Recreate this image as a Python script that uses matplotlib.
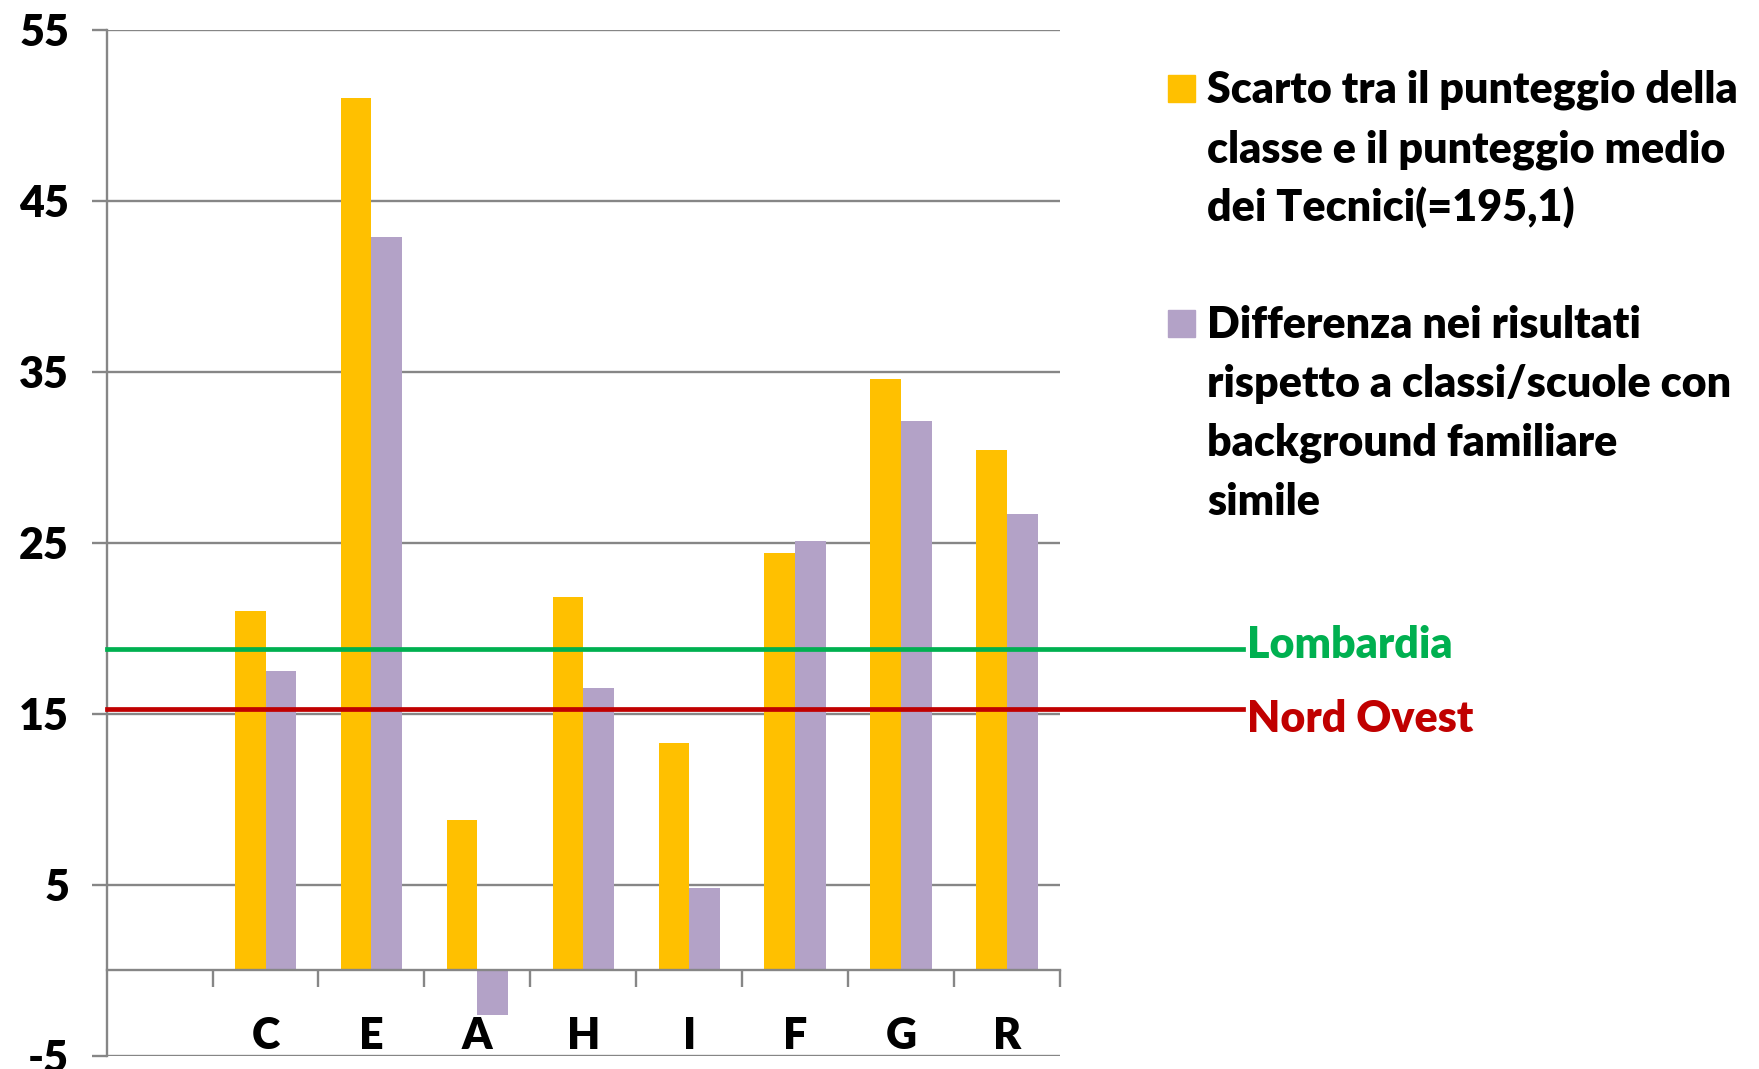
import numpy as np
import matplotlib.pyplot as plt
from matplotlib.patches import Rectangle
from matplotlib.transforms import blended_transform_factory

# data
categories = ['', 'C', 'E', 'A', 'H', 'I', 'F', 'G', 'R']
scarto = [np.nan, 21.0, 51.0, 8.8, 21.8, 13.3, 24.4, 34.6, 30.4]
differenza = [np.nan, 17.5, 42.9, -2.6, 16.5, 4.8, 25.1, 32.1, 26.7]
lombardia = 18.8
nord_ovest = 15.3
y_ticks = [-5, 5, 15, 25, 35, 45, 55]
legend_labels = [
    ['Scarto tra il punteggio della', 'classe e il punteggio medio', 'dei Tecnici(=195,1)'],
    ['Differenza nei risultati', 'rispetto a classi/scuole con',
     'background familiare', 'simile'],
]

YELLOW = '#FFC000'
PURPLE = '#B3A2C7'
GREEN = '#00B050'
RED = '#C00000'
GRID = '#868686'
FS = 31
WT = 'heavy'

plt.rcParams['font.family'] = 'Lato'
plt.rcParams['font.weight'] = WT

W, H = 1759, 1069
fig = plt.figure(figsize=(W / 100, H / 100), dpi=100)
ax = fig.add_axes([106.6 / W, 1 - 1056 / H, (1060 - 106.6) / W, (1056 - 29.5) / H])

x = np.arange(len(categories))
bw = 0.29
ax.bar(x - bw / 2, scarto, bw, color=YELLOW, zorder=2)
ax.bar(x + bw / 2, differenza, bw, color=PURPLE, zorder=2)

ax.set_xlim(-0.5, len(categories) - 0.5)
ax.set_ylim(-5, 55)
ax.set_axisbelow(True)
ax.yaxis.grid(True, color=GRID, lw=1.7)

for s in ['top', 'right']:
    ax.spines[s].set_visible(False)
ax.spines['left'].set_color(GRID)
ax.spines['left'].set_linewidth(1.7)
ax.spines['bottom'].set_color(GRID)
ax.spines['bottom'].set_linewidth(1.7)
ax.spines['bottom'].set_position(('data', 0))

ax.set_yticks(y_ticks)
ax.set_yticklabels([str(v) for v in y_ticks], fontsize=FS, fontweight=WT)
ax.tick_params(axis='y', direction='out', length=11, width=1.7, color=GRID, pad=16)

ax.set_xticks(x + 0.5)
ax.set_xticklabels([])
ax.set_xticks(x, minor=True)
ax.set_xticklabels(categories, minor=True, fontsize=FS, fontweight=WT)
ax.tick_params(axis='x', which='major', direction='out', length=12, width=1.7, color=GRID)
ax.tick_params(axis='x', which='minor', length=0, pad=33)

# reference lines extending out of the plot area
tr = blended_transform_factory(ax.transAxes, ax.transData)
ax.plot([0, 1.192], [lombardia, lombardia], color=GREEN, lw=3.4, transform=tr,
        clip_on=False, zorder=3)
ax.plot([0, 1.192], [nord_ovest, nord_ovest], color=RED, lw=3.4, transform=tr,
        clip_on=False, zorder=3)
ax.text(1.196, lombardia + 0.25, 'Lombardia', color=GREEN, fontsize=FS,
        fontweight=WT, va='center', ha='left', transform=tr)
ax.text(1.196, nord_ovest - 0.6, 'Nord Ovest', color=RED, fontsize=FS,
        fontweight=WT, va='center', ha='left', transform=tr)

# legend drawn by hand
step = 59
starts = [103, 337.7]
squares = [75, 310]
for lines, color, y0, sq in zip(legend_labels, [YELLOW, PURPLE], starts, squares):
    fig.patches.append(Rectangle((1168 / W, 1 - (sq + 27) / H), 27 / W, 27 / H,
                                 color=color, transform=fig.transFigure))
    for i, line in enumerate(lines):
        fig.text(1207 / W, 1 - (y0 + i * step) / H, line, fontsize=FS,
                 fontweight=WT, va='baseline', ha='left')

fig.savefig('out.png', dpi=100)
